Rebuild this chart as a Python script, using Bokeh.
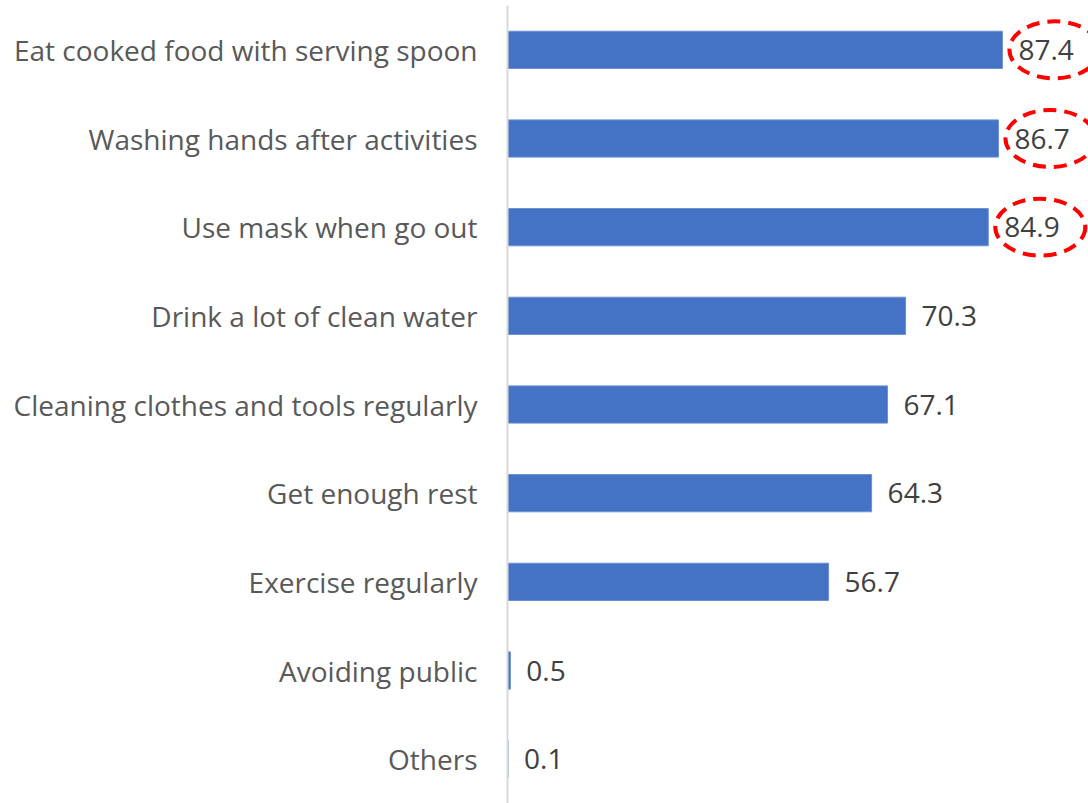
from bokeh.plotting import figure
from bokeh.models import ColumnDataSource, FactorRange, Range1d
from bokeh.embed import file_html
from bokeh.resources import INLINE
from bokeh.core.properties import value

categories = [
    "Eat cooked food with serving spoon",
    "Washing hands after activities",
    "Use mask when go out",
    "Drink a lot of clean water",
    "Cleaning clothes and tools regularly",
    "Get enough rest",
    "Exercise regularly",
    "Avoiding public",
    "Others",
]
values = [87.4, 86.7, 84.9, 70.3, 67.1, 64.3, 56.7, 0.5, 0.1]
labels = ["87.4", "86.7", "84.9", "70.3", "67.1", "64.3", "56.7", "0.5", "0.1"]
highlighted = ["Eat cooked food with serving spoon",
               "Washing hands after activities",
               "Use mask when go out"]

X_MAX = 102.6
FRAME_LEFT = 507
W = 1088
px_per_unit = (W - FRAME_LEFT) / X_MAX

src = ColumnDataSource(dict(cat=categories, val=values, lab=labels))

p = figure(width=W, height=803, output_backend="svg", toolbar_location=None,
           y_range=FactorRange(factors=list(reversed(categories))),
           x_range=Range1d(0, X_MAX), x_axis_location=None,
           min_border_left=FRAME_LEFT, min_border_right=0,
           min_border_top=5, min_border_bottom=0)

p.hbar(y="cat", right="val", left=0, height=0.42, source=src,
       fill_color="#4472C4", line_color="#6a8fd3", line_width=1)

p.text(x="val", y="cat", text="lab", source=src, x_offset=16,
       text_align="left", text_baseline="middle",
       text_font=value("Open Sans"), text_font_size="28px", text_color="#404040")

# red dashed ellipses around the highlighted value labels
ell_cats = [c for c in categories if c in highlighted]
ell_vals = [v for c, v in zip(categories, values) if c in highlighted]
ell_x = [v + 52 / px_per_unit for v in ell_vals]
p.ellipse(x=ell_x, y=ell_cats, width=90, height=57,
          width_units="screen", height_units="screen",
          fill_color=None, line_color="#FF0000", line_width=4, line_dash="13 8")

p.xgrid.visible = False
p.ygrid.visible = False
p.outline_line_color = None
p.background_fill_color = "white"
p.border_fill_color = "white"

ax = p.yaxis[0]
ax.axis_line_color = "#d9d9d9"
ax.axis_line_width = 2
ax.major_tick_line_color = None
ax.minor_tick_line_color = None
ax.major_label_standoff = 24
ax.major_label_text_font = "Open Sans"
ax.major_label_text_font_size = "28px"
ax.major_label_text_color = "#595959"

open("out.html", "w").write(file_html(p, INLINE))
